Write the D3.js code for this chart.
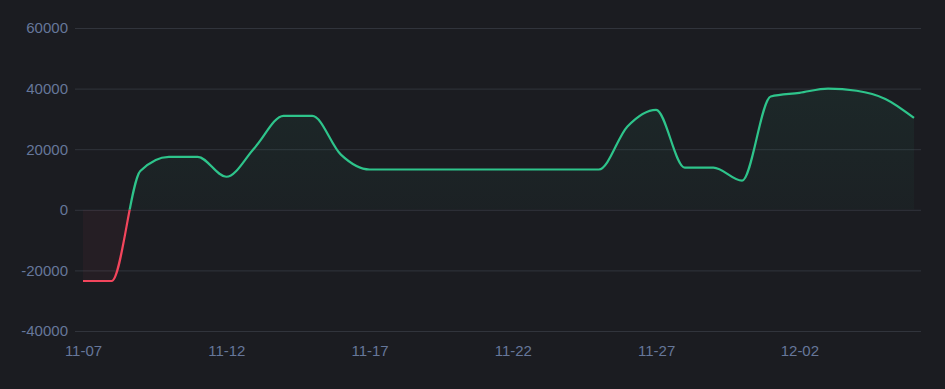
<!DOCTYPE html>
<html>
<head>
<meta charset="utf-8">
<script src="https://cdn.jsdelivr.net/npm/d3@7"></script>
<style>
  html, body { margin: 0; padding: 0; background: #1b1c21; }
  svg { display: block; }
  .tick text { font-family: "Liberation Sans", Arial, sans-serif; font-size: 15px; fill: #66779a; }
</style>
</head>
<body>
<script>
// daily values, 11-07 .. 12-06
const days = ['2023-11-07','2023-11-08','2023-11-09','2023-11-10','2023-11-11','2023-11-12',
  '2023-11-13','2023-11-14','2023-11-15','2023-11-16','2023-11-17','2023-11-18','2023-11-19',
  '2023-11-20','2023-11-21','2023-11-22','2023-11-23','2023-11-24','2023-11-25','2023-11-26',
  '2023-11-27','2023-11-28','2023-11-29','2023-11-30','2023-12-01','2023-12-02','2023-12-03',
  '2023-12-04','2023-12-05','2023-12-06']
const values = [-23500, -23500, 12800, 17500, 17500, 10900,
  20600, 31000, 31000, 18200, 13300, 13300, 13300,
  13300, 13300, 13300, 13300, 13300, 13300, 27500,
  33000, 13900, 13900, 9600, 37400, 38600, 40000,
  39300, 36600, 30300]
const yTicks = [-40000, -20000, 0, 20000, 40000, 60000]
const xTickLabels = ['11-07', '11-12', '11-17', '11-22', '11-27', '12-02']

const parse = d3.timeParse('%Y-%m-%d')
const data = days.map((d, i) => ({ date: parse(d), value: values[i] }))

const width = 945
const height = 389
const gridLeft = 75, gridRight = 921
const green = '#2ec48b'
const red = '#f2455c'

const svg = d3.select('body').append('svg')
  .attr('width', width)
  .attr('height', height)

const x = d3.scaleTime()
  .domain(d3.extent(data, d => d.date))
  .range([83, 914])

const y = d3.scaleLinear()
  .domain([-40000, 60000])
  .range([331, 28])

//gradients for the area under the line
const defs = svg.append('defs')
const gGrad = defs.append('linearGradient')
  .attr('id', 'gfill').attr('gradientUnits', 'userSpaceOnUse')
  .attr('x1', 0).attr('x2', 0).attr('y1', y(40000)).attr('y2', y(0))
gGrad.append('stop').attr('offset', 0).attr('stop-color', green).attr('stop-opacity', 0.07)
gGrad.append('stop').attr('offset', 1).attr('stop-color', green).attr('stop-opacity', 0.03)

defs.append('clipPath').attr('id', 'above')
  .append('rect').attr('x', 0).attr('y', 0).attr('width', width).attr('height', y(0))
defs.append('clipPath').attr('id', 'below')
  .append('rect').attr('x', 0).attr('y', y(0)).attr('width', width).attr('height', height - y(0))

//=================== GRID / Y AXIS ==================
const yAxis = d3.axisLeft(y)
  .tickValues(yTicks)
  .tickFormat(d3.format('d'))
  .tickSize(-(gridRight - gridLeft))
  .tickPadding(7)

const yG = svg.append('g')
  .attr('transform', `translate(${gridLeft},0)`)
  .call(yAxis)
yG.select('.domain').remove()
yG.selectAll('.tick line').attr('stroke', '#31343c').attr('stroke-width', 1)
//plain hyphen for negatives
yG.selectAll('.tick text').text(d => String(d))

//=================== X AXIS ==================
const xTickDates = xTickLabels.map(l => parse('2023-' + l))
const xAxis = d3.axisBottom(x)
  .tickValues(xTickDates)
  .tickFormat(d3.timeFormat('%m-%d'))
  .tickSize(0)
  .tickPadding(14)

const xG = svg.append('g')
  .attr('transform', `translate(0,${y(-40000)})`)
  .call(xAxis)
xG.select('.domain').remove()

//=================== AREA + LINE ==================
const curve = d3.curveMonotoneX
const area = d3.area()
  .x(d => x(d.date))
  .y0(y(0))
  .y1(d => y(d.value))
  .curve(curve)
const line = d3.line()
  .x(d => x(d.date))
  .y(d => y(d.value))
  .curve(curve)

svg.append('path').datum(data)
  .attr('d', area)
  .attr('fill', 'url(#gfill)')
  .attr('clip-path', 'url(#above)')
svg.append('path').datum(data)
  .attr('d', area)
  .attr('fill', red)
  .attr('fill-opacity', 0.05)
  .attr('clip-path', 'url(#below)')

svg.append('path').datum(data)
  .attr('d', line)
  .attr('fill', 'none')
  .attr('stroke', green)
  .attr('stroke-width', 2.2)
  .attr('clip-path', 'url(#above)')
svg.append('path').datum(data)
  .attr('d', line)
  .attr('fill', 'none')
  .attr('stroke', red)
  .attr('stroke-width', 2.2)
  .attr('clip-path', 'url(#below)')
</script>
</body>
</html>
